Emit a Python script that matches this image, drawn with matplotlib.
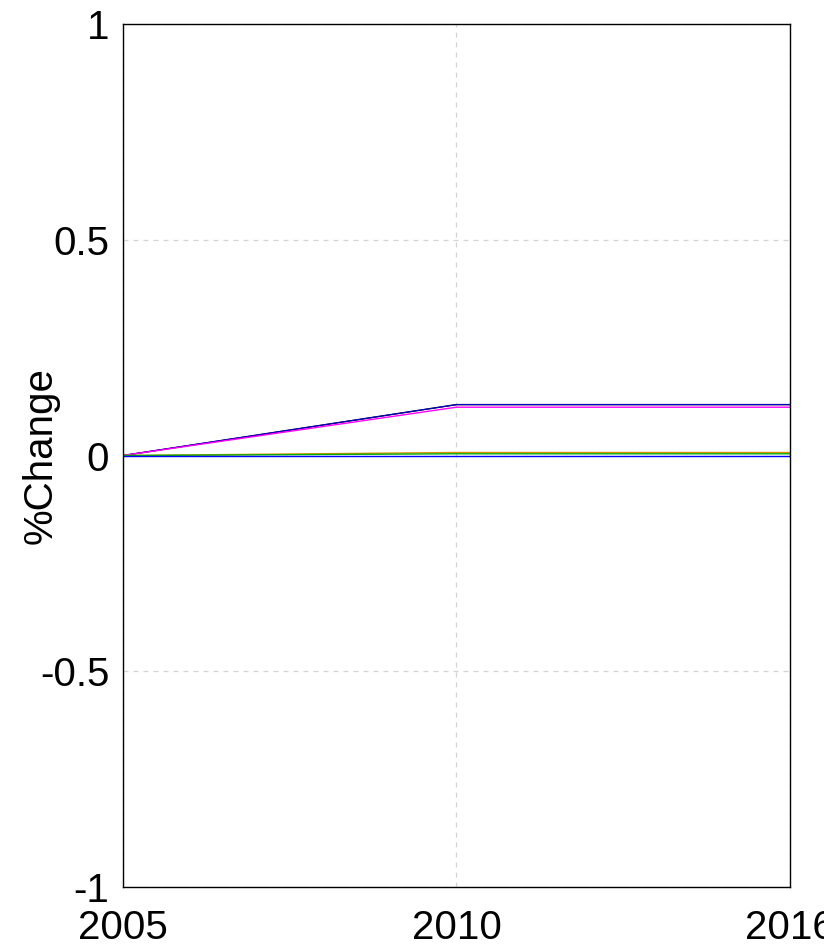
import matplotlib
matplotlib.use('Agg')
import matplotlib.pyplot as plt

# data
years = ['2005', '2010', '2016']
s_black = [0, 0.118, 0.118]
s_blue_top = [0, 0.118, 0.118]
s_magenta = [0, 0.112, 0.112]
s_orange = [0, 0.007, 0.007]
s_green = [0, 0.004, 0.004]
s_blue_zero = [0, 0.0, 0.0]

plt.rcParams['font.family'] = ['Liberation Sans', 'DejaVu Sans']

fig = plt.figure(figsize=(8.24, 9.49), dpi=100)
ax = fig.add_axes([0.1493, 0.0653, 0.9587 - 0.1493, 0.9747 - 0.0653])

x = range(len(years))
ax.plot(x, s_black, color='black', lw=1.0)
ax.plot(x, s_blue_top, color='#0000cc', lw=0.8)
ax.plot(x, s_magenta, color='magenta', lw=1.0)
ax.plot(x, s_orange, color='#e08a00', lw=1.0)
ax.plot(x, s_green, color='#00b000', lw=1.0)
ax.plot(x, s_blue_zero, color='#0000ff', lw=1.0)

ax.set_xlim(0, 2)
ax.set_ylim(-1, 1)
ax.set_xticks(list(x))
ax.set_xticklabels(years)
ax.set_yticks([-1, -0.5, 0, 0.5, 1])
ax.set_yticklabels(['-1', '-0.5', '0', '0.5', '1'])
ax.tick_params(length=0, labelsize=29)
ax.tick_params(axis='x', pad=16)
ax.tick_params(axis='y', pad=10)
ax.grid(True, linestyle=(0, (4, 4)), color='#d4d4d4', lw=0.9)
ax.set_axisbelow(True)
for sp in ax.spines.values():
    sp.set_linewidth(1.0)
ax.set_ylabel('%Change', fontsize=29, va='center')
ax.yaxis.set_label_coords(-0.124, 0.5)

plt.savefig('out.png')
